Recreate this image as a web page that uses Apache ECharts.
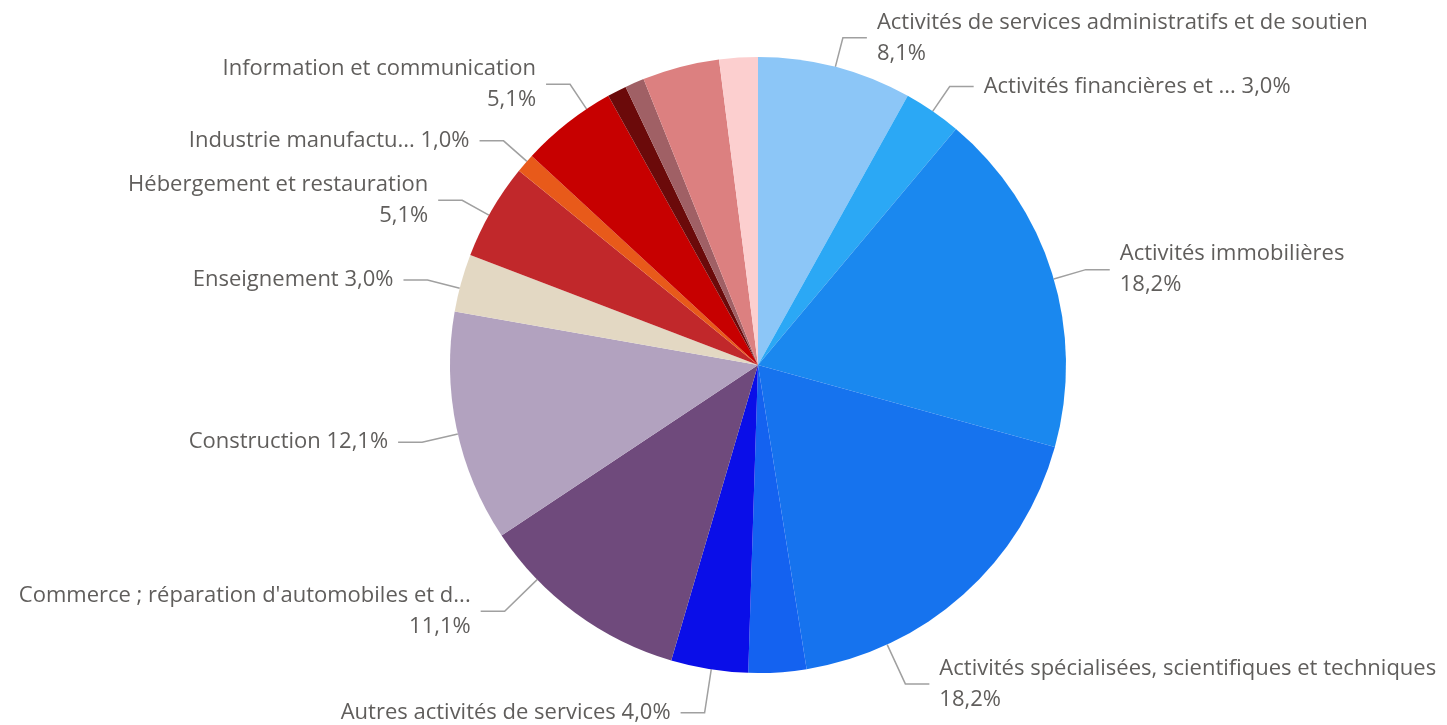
<!DOCTYPE html>
<html>
<head>
<meta charset="utf-8">
<script src="https://cdn.jsdelivr.net/npm/echarts@6/dist/echarts.min.js"></script>
<style>
  html, body { margin: 0; padding: 0; background: #fff; }
  #chart { width: 1447px; height: 725px; }
</style>
</head>
<body>
<div id="chart"></div>
<script>
var categories = [
    'Activités de services administratifs et de soutien',
    'Activités financières et ...',
    'Activités immobilières',
    'Activités spécialisées, scientifiques et techniques',
    'Administration publique',
    'Autres activités de services',
    "Commerce ; réparation d'automobiles et d...",
    'Construction',
    'Enseignement',
    'Hébergement et restauration',
    'Industrie manufactu...',
    'Information et communication',
    "Production et distribution d'eau",
    "Production et distribution d'électricité",
    'Santé humaine et action sociale',
    'Transports et entreposage'
];
var values = [8, 3, 18, 18, 3, 4, 11, 12, 3, 5, 1, 5, 1, 1, 4, 2];
var colors = [
    '#8cc6f7', '#2ba8f5', '#1a88ef', '#1673ee', '#1462f0', '#0a0ee8',
    '#6f4a7c', '#b2a2bf', '#e3d8c3', '#c1282b', '#e85a1a', '#c70000',
    '#6b0a0a', '#a06065', '#dc8080', '#fccfcf'
];
// which labels go on two lines, which are hidden (too small)
var twoLines = [0, 2, 3, 6, 9, 11];
var hidden = [4, 12, 13, 14, 15];

var total = values.reduce(function (a, b) { return a + b; }, 0);

function pct(v) {
    return (Math.round(v / total * 1000) / 10).toFixed(1).replace('.', ',') + '%';
}

var cx = 758, cy = 365, R = 308;
// labels Power BI moved away from the slice middle
var shifts = {
    2: [5, 5],
    3: [-78, 67],
    5: [0, 14],
    6: [-61, -26],
    7: [-15, 8],
    8: [-14, 5],
    9: [-10, 4],
    10: [0, -7],
    11: [21, -15]
};

var myChart = echarts.init(document.getElementById('chart'));
var option = {
    backgroundColor: '#fff',
    animation: false,
    series: [
        {
            type: 'pie',
            radius: R,
            center: [cx, cy],
            startAngle: 90,
            avoidLabelOverlap: true,
            data: categories.map(function (name, i) {
                return {
                    name: name,
                    value: values[i],
                    itemStyle: { color: colors[i] },
                    label: { show: hidden.indexOf(i) < 0 },
                    labelLine: { show: hidden.indexOf(i) < 0 }
                };
            }),
            label: {
                show: true,
                position: 'outside',
                fontFamily: 'Open Sans',
                fontSize: 22,
                lineHeight: 31,
                color: '#605e5c',
                overflow: 'none',
                distanceToLabelLine: 10,
                formatter: function (p) {
                    var sep = twoLines.indexOf(p.dataIndex) >= 0 ? '\n' : ' ';
                    return p.name + sep + pct(p.value);
                }
            },
            labelLine: {
                length: 30,
                length2: 24,
                lineStyle: { color: '#a0a0a0', width: 1.5 }
            },
            labelLayout: function (params) {
                var s = shifts[params.dataIndex];
                if (!s) return {};
                var pts = params.labelLinePoints;
                if (!pts) return { dx: s[0], dy: s[1] };
                var p1 = [pts[1][0] + s[0], pts[1][1] + s[1]];
                var p2 = [pts[2][0] + s[0], pts[2][1] + s[1]];
                var vx = p1[0] - cx, vy = p1[1] - cy;
                var d = Math.sqrt(vx * vx + vy * vy);
                var p0 = [cx + vx / d * R, cy + vy / d * R];
                return { dx: s[0], dy: s[1], labelLinePoints: [p0, p1, p2] };
            }
        }
    ]
};
myChart.setOption(option);
</script>
</body>
</html>
